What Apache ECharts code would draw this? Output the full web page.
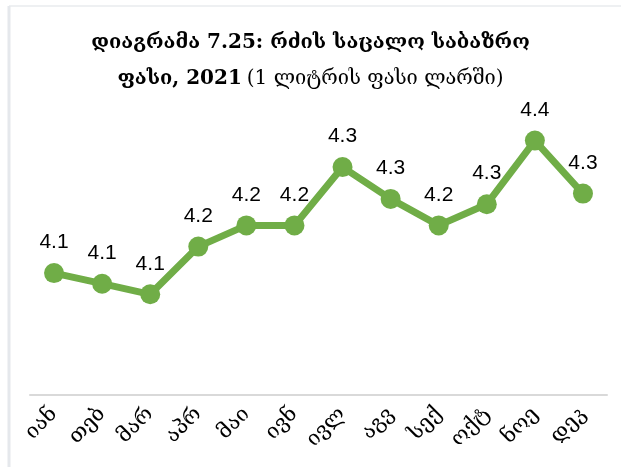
<!DOCTYPE html>
<html>
<head>
<meta charset="utf-8">
<script src="https://cdn.jsdelivr.net/npm/echarts@6/dist/echarts.min.js"></script>
<style>
	html, body { margin: 0; padding: 0; background: #fff; }
	#chart { width: 621px; height: 467px; }
</style>
</head>
<body>
<div id="chart"></div>
<script type="text/javascript">
	// თვეები და ფასები (ლარი / ლიტრი)
	var months = ['იან', 'თებ', 'მარ', 'აპრ', 'მაი', 'ივნ', 'ივლ', 'აგვ', 'სექ', 'ოქტ', 'ნოე', 'დეკ'];
	var prices = [4.13, 4.11, 4.09, 4.18, 4.22, 4.22, 4.33, 4.27, 4.22, 4.26, 4.38, 4.28];
	var yMin = 3.9;
	var yMax = 4.5;

	var dom = document.getElementById("chart");
	var myChart = echarts.init(dom);
	var option = {
		backgroundColor: '#fff',
		animation: false,
		title: {
			left: 'center',
			top: 20,
			text: '{b|დიაგრამა 7.25: რძის საცალო საბაზრო}\n{b|ფასი, 2021} {n|(1 ლიტრის ფასი ლარში)}',
			textStyle: {
				lineHeight: 36,
				rich: {
					b: { fontFamily: 'DejaVu Serif', fontWeight: 'bold', fontSize: 20, color: '#000', lineHeight: 36 },
					n: { fontFamily: 'DejaVu Serif', fontWeight: 'normal', fontSize: 20, color: '#000', lineHeight: 36 }
				}
			}
		},
		graphic: [
			{ type: 'line', shape: { x1: 9, y1: 6, x2: 621, y2: 6 }, style: { stroke: '#eef0f2', lineWidth: 2 } },
			{ type: 'line', shape: { x1: 9, y1: 6, x2: 9, y2: 467 }, style: { stroke: '#e5e8ec', lineWidth: 3 } }
		],
		grid: { left: 30, right: 14, top: 77, bottom: 72 },
		xAxis: {
			type: 'category',
			data: months,
			boundaryGap: true,
			axisLine: { lineStyle: { color: '#d9d9d9', width: 2 } },
			axisTick: { show: false },
			axisLabel: {
				rotate: 45,
				margin: 16,
				fontFamily: 'DejaVu Serif',
				fontSize: 21,
				color: '#000'
			}
		},
		yAxis: {
			type: 'value',
			min: yMin,
			max: yMax,
			show: false,
			splitLine: { show: false }
		},
		series: [{
			type: 'line',
			data: prices,
			symbol: 'circle',
			symbolSize: 20,
			lineStyle: { color: '#70ad47', width: 7 },
			itemStyle: { color: '#70ad47' },
			label: {
				show: true,
				position: 'top',
				distance: 10,
				fontFamily: 'Liberation Sans',
				fontSize: 21,
				color: '#000',
				formatter: function (p) { return p.value.toFixed(1); }
			}
		}]
	};
	myChart.setOption(option, true);
</script>
</body>
</html>
